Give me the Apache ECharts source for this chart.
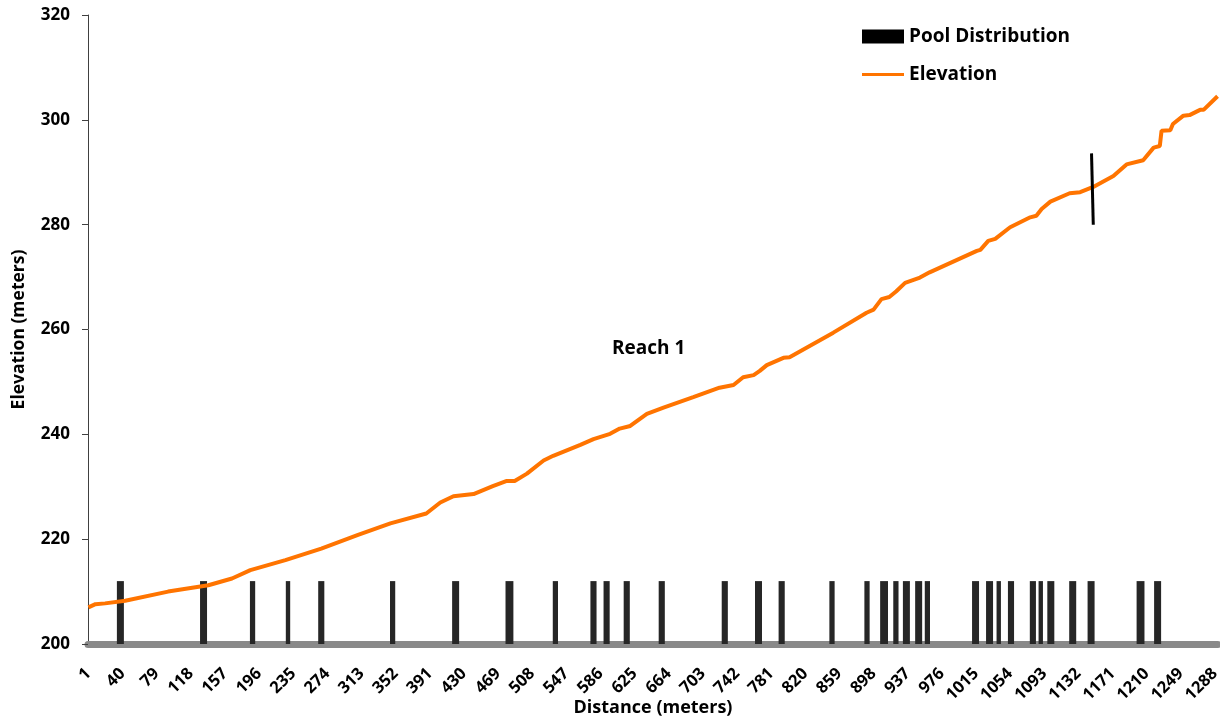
<!DOCTYPE html>
<html>
<head>
<meta charset="utf-8">
<script src="https://cdn.jsdelivr.net/npm/echarts@6/dist/echarts.min.js"></script>
<style>
  html, body { margin: 0; padding: 0; background: #fff; }
  #chart { width: 1220px; height: 719px; }
</style>
</head>
<body>
<div id="chart"></div>
<script>
// ---- data ----
const N_DISTANCE = 1291; // distance categories 1..1291 (meters)
const distanceCategories = Array.from({ length: N_DISTANCE }, (_, i) => String(i + 1));

// Elevation profile (distance in m, elevation in m)
const elevDistance = [1, 9, 20, 43, 92, 138, 165, 186, 226, 267, 309, 346, 387, 403, 418, 441, 463, 479, 488, 502, 521, 532, 563, 578, 597, 608, 620, 639, 658, 692, 722, 738, 749, 761, 768, 776, 795, 802, 852, 890, 898, 907, 916, 924, 934, 951, 962, 1016, 1020, 1029, 1037, 1054, 1077, 1084, 1090, 1100, 1122, 1134, 1149, 1172, 1187, 1206, 1218, 1225, 1227, 1237, 1240, 1252, 1259, 1271, 1275, 1291];
const elevValue = [207.0, 207.6, 207.75, 208.25, 210.0, 211.2, 212.5, 214.1, 216.0, 218.2, 220.8, 223.0, 224.9, 227.0, 228.2, 228.6, 230.1, 231.1, 231.1, 232.5, 235.0, 235.9, 238.0, 239.1, 240.1, 241.1, 241.6, 243.9, 245.1, 247.1, 248.9, 249.4, 250.9, 251.3, 252.1, 253.2, 254.6, 254.7, 259.4, 263.2, 263.8, 265.8, 266.2, 267.3, 268.9, 269.9, 270.9, 275.0, 275.2, 276.9, 277.3, 279.5, 281.4, 281.7, 283.0, 284.4, 286.0, 286.2, 287.2, 289.3, 291.5, 292.3, 294.7, 295.0, 297.9, 298.0, 299.2, 300.8, 300.9, 301.9, 301.9, 304.5];

// Pools: start / end distance (m); bar top elevation
const poolStart = [34, 129, 186, 227, 264, 346, 417, 478, 532, 575, 590, 613, 653, 725, 763, 790, 848, 888, 906, 921, 932, 946, 957, 1011, 1027, 1039, 1052, 1077, 1087, 1097, 1122, 1143, 1199, 1219];
const poolEnd   = [41, 136, 191, 231, 270, 351, 424, 486, 537, 581, 596, 619, 659, 731, 770, 796, 853, 893, 914, 926, 939, 953, 962, 1018, 1034, 1043, 1058, 1083, 1091, 1104, 1129, 1150, 1207, 1226];
const poolTop = 212;

// Reach boundary marker
const boundaryDistance = [1147, 1149];
const boundaryElev = [293.6, 280.0];

const yTicks = { min: 200, max: 320, interval: 20 };

// ---- build options ----
const FONT = 'Open Sans';
const ORANGE = '#FF7400';
const elevData = elevDistance.map((d, i) => [d - 1, elevValue[i]]);
const poolData = poolStart.map((s, i) => [s - 1, poolEnd[i] - 1, poolTop]);
const boundaryData = boundaryDistance.map((d, i) => [d - 1, boundaryElev[i]]);

const chart = echarts.init(document.getElementById('chart'), null, { renderer: 'canvas' });
chart.setOption({
  backgroundColor: '#ffffff',
  animation: false,
  textStyle: { fontFamily: FONT },
  grid: { left: 88, right: 2, top: 15, bottom: 75, containLabel: false, outerBoundsMode: 'none' },
  legend: {
    orient: 'vertical',
    left: 862,
    top: 27,
    padding: 0,
    itemWidth: 42,
    itemHeight: 14,
    itemGap: 19,
    textStyle: { fontFamily: FONT, fontWeight: 'bold', fontSize: 19, color: '#000' },
    data: [
      { name: 'Pool Distribution', icon: 'rect', itemStyle: { color: '#000000' } },
      { name: 'Elevation', icon: 'path://M0,0H42V3H0Z', itemStyle: { color: ORANGE, borderWidth: 0 } }
    ]
  },
  xAxis: {
    type: 'category',
    data: distanceCategories,
    boundaryGap: true,
    name: 'Distance (meters)',
    nameLocation: 'middle',
    nameGap: 55,
    nameMoveOverlap: false,
    nameTextStyle: { fontFamily: FONT, fontWeight: 'bold', fontSize: 18, color: '#000' },
    axisLine: { show: true, lineStyle: { color: '#898989', width: 7 } },
    axisTick: { show: false },
    axisLabel: {
      interval: 38,
      rotate: 45,
      margin: 27,
      fontFamily: FONT,
      fontWeight: 'bold',
      fontSize: 16.5,
      color: '#000'
    },
    splitLine: { show: false }
  },
  yAxis: {
    type: 'value',
    min: yTicks.min,
    max: yTicks.max,
    interval: yTicks.interval,
    name: 'Elevation (meters)',
    nameLocation: 'middle',
    nameGap: 60,
    nameTextStyle: { fontFamily: FONT, fontWeight: 'bold', fontSize: 17.5, color: '#000' },
    axisLine: { show: true, lineStyle: { color: '#404040', width: 1 } },
    axisTick: { show: true, length: 6, lineStyle: { color: '#404040' } },
    axisLabel: { margin: 18, fontFamily: FONT, fontWeight: 'bold', fontSize: 17, color: '#000' },
    splitLine: { show: false }
  },
  series: [
    {
      name: 'Pool Distribution',
      type: 'custom',
      itemStyle: { color: '#262626' },
      encode: { x: [0, 1], y: 2 },
      data: poolData,
      z: 3,
      renderItem: function (params, api) {
        const band = api.size([1, 0])[0];
        const p0 = api.coord([api.value(0), yTicks.min]);
        const p1 = api.coord([api.value(1), api.value(2)]);
        const x0 = p0[0] - band / 2;
        const x1 = p1[0] + band / 2;
        return {
          type: 'rect',
          shape: { x: x0, y: p1[1], width: x1 - x0, height: p0[1] - p1[1] },
          style: { fill: '#262626' }
        };
      }
    },
    {
      name: 'Elevation',
      type: 'line',
      data: elevData,
      symbol: 'none',
      smooth: false,
      z: 4,
      lineStyle: { color: ORANGE, width: 4 },
      itemStyle: { color: ORANGE }
    },
    {
      name: 'Reach boundary',
      type: 'line',
      data: boundaryData,
      symbol: 'none',
      silent: true,
      z: 5,
      lineStyle: { color: '#000000', width: 3 }
    }
  ],
  graphic: [
    {
      type: 'text',
      left: 612,
      top: 339,
      style: { text: 'Reach 1', fontFamily: FONT, fontWeight: 'bold', fontSize: 19, fill: '#000' }
    }
  ]
});
</script>
</body>
</html>
